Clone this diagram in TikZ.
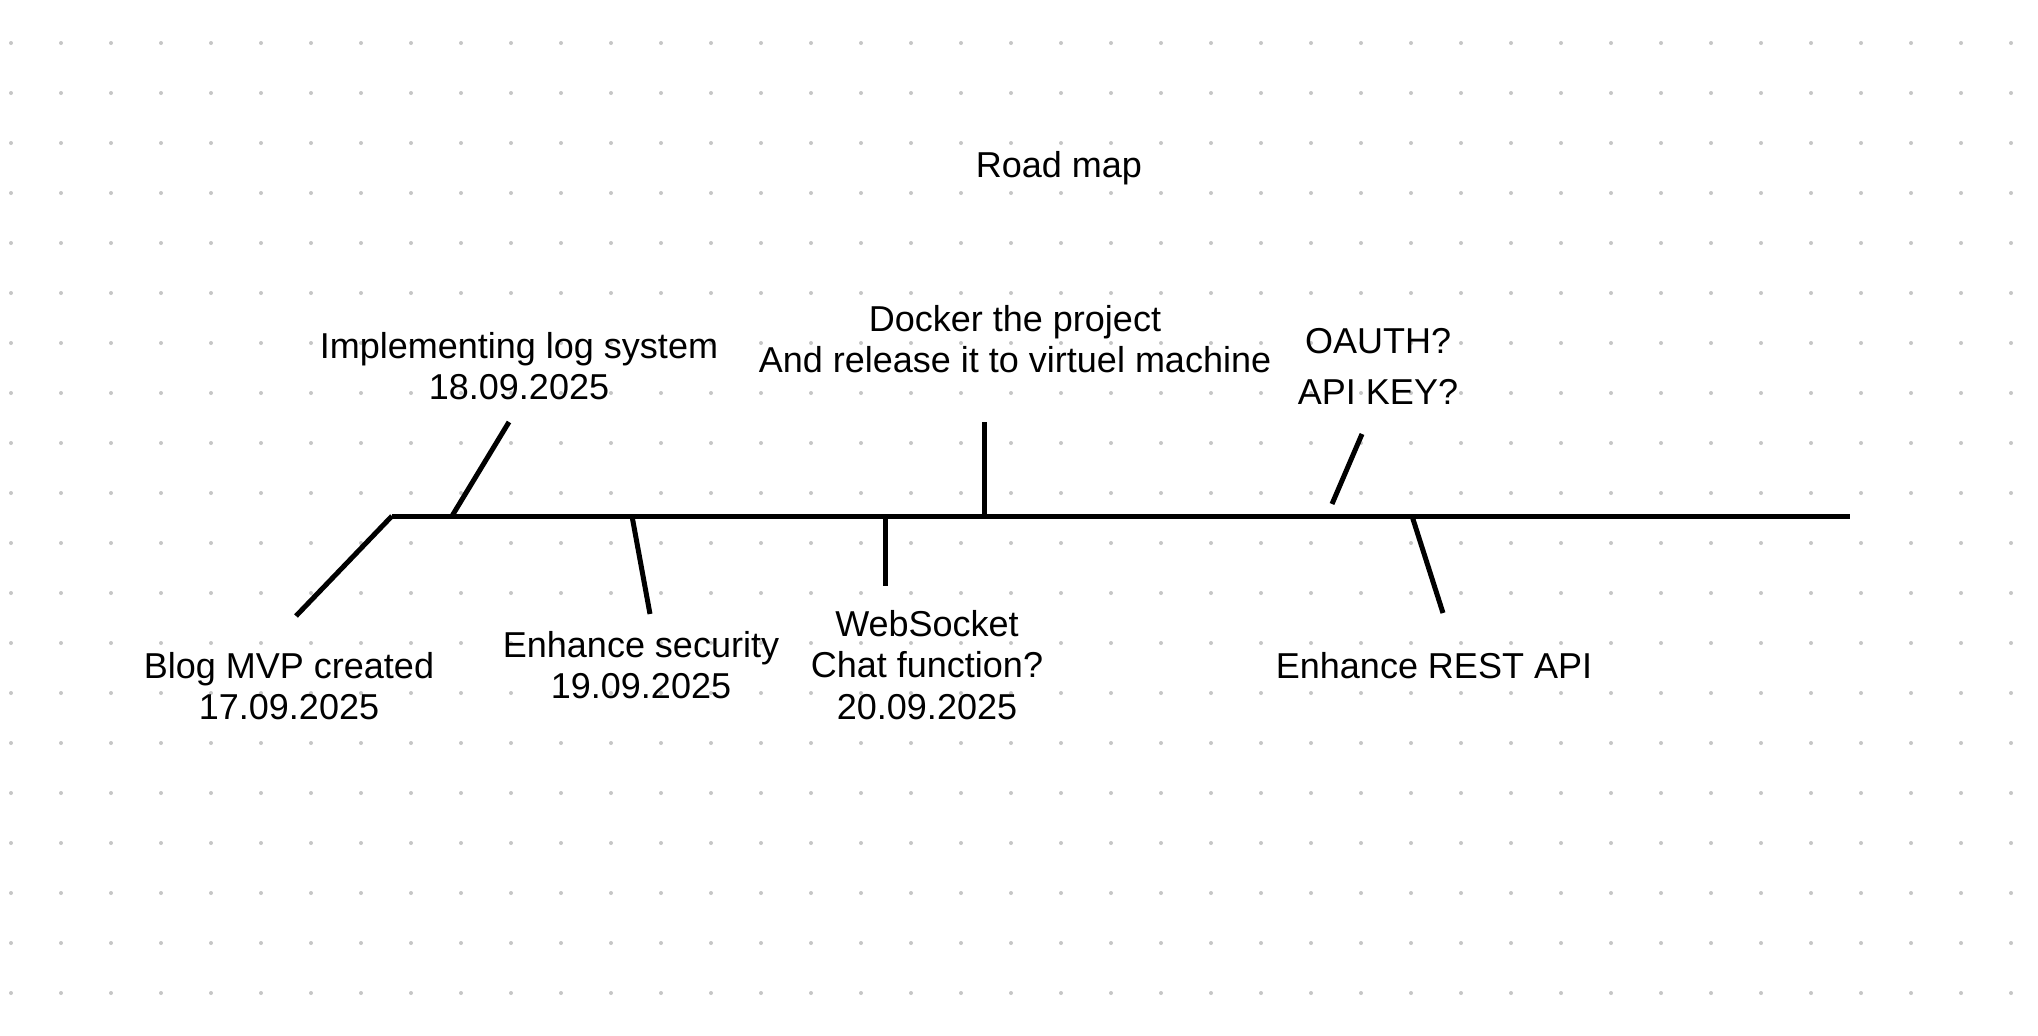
\documentclass[tikz,border=0pt]{standalone}
\usepackage{fontspec}
\setmainfont{Liberation Sans}
\begin{document}
\begin{tikzpicture}[x=1pt,y=-1pt,
  tick/.style={line width=5pt, black},
  lbl/.style={inner sep=0pt, align=center, font=\fontsize{36}{41.5}\selectfont},
  griddot/.style={fill=gray!45}]
\useasboundingbox (0,0) rectangle (2038,1036);
\fill[white] (0,0) rectangle (2038,1036);
\foreach \i in {0,...,40}{
  \foreach \j in {0,...,19}{
    \fill[griddot] (11+50*\i,43+50*\j) circle (2);
  }
}
% coordinates
\coordinate (start) at (392,516);
\coordinate (finish) at (1850,516);
\coordinate (blogA) at (392,516);
\coordinate (blogB) at (296,616);
\coordinate (logA) at (452,516);
\coordinate (logB) at (509,422);
\coordinate (secA) at (632,516);
\coordinate (secB) at (650,614);
\coordinate (wsA) at (885,516);
\coordinate (wsB) at (885,586);
\coordinate (dockA) at (984,516);
\coordinate (dockB) at (984,422);
\coordinate (oaA) at (1332,504);
\coordinate (oaB) at (1362,434);
\coordinate (restA) at (1412,516);
\coordinate (restB) at (1443,613);
% lines
\draw[tick] (start) -- (finish);
\draw[tick] (blogA) -- (blogB);
\draw[tick] (logA) -- (logB);
\draw[tick] (secA) -- (secB);
\draw[tick] (wsA) -- (wsB);
\draw[tick] (dockA) -- (dockB);
\draw[tick] (oaA) -- (oaB);
\draw[tick] (restA) -- (restB);
% labels
\node[lbl] (title) at (1059,168) {Road map};
\node[lbl] (log) at (519,366) {Implementing log system\\18.09.2025};
\node[lbl] (dock) at (1015,339) {Docker the project\\And release it to virtuel machine};
\node[lbl, font=\fontsize{36}{51}\selectfont] (oa) at (1378,366) {OAUTH?\\API KEY?};
\node[lbl] (blog) at (289,686) {Blog MVP created\\17.09.2025};
\node[lbl] (sec) at (641,665) {Enhance security\\19.09.2025};
\node[lbl] (ws) at (927,665) {WebSocket\\Chat function?\\20.09.2025};
\node[lbl] (rest) at (1434,666) {Enhance REST API};
\end{tikzpicture}
\end{document}
